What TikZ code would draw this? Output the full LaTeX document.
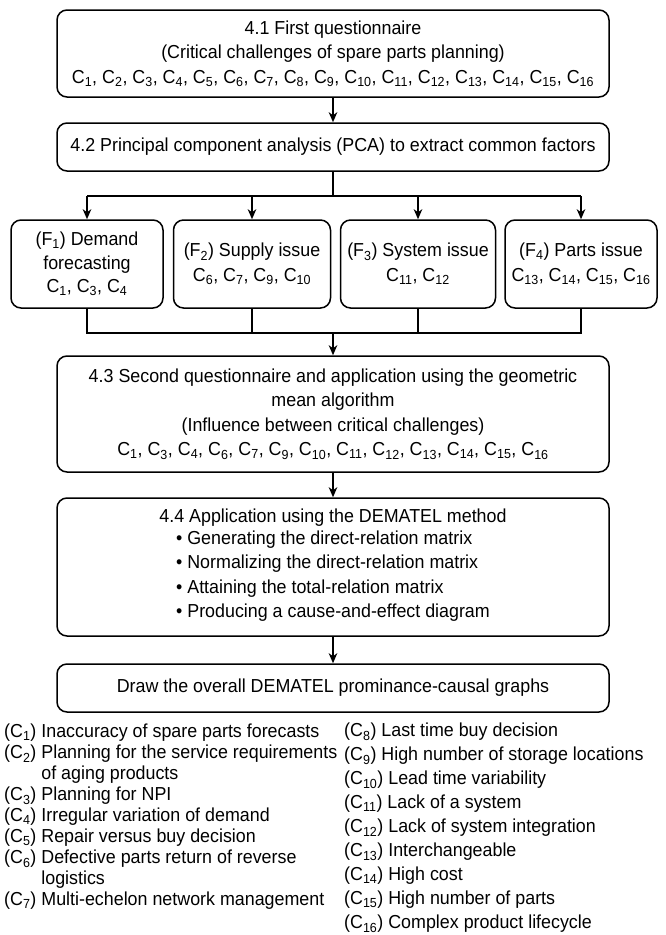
\documentclass[tikz,border=0pt]{standalone}
\usepackage{fontspec}
\setmainfont{Liberation Sans}[FakeStretch=0.95]
\usetikzlibrary{arrows.meta, positioning}
\def\cc#1{C\textsubscript{#1}}
\def\ff#1{F\textsubscript{#1}}

\begin{document}
\begin{tikzpicture}[x=1pt, y=-1pt,
    box/.style={draw, rounded corners=10pt, line width=1.5pt, inner sep=0pt, align=center,
        font=\fontsize{18.8}{24.5}\selectfont},
    link/.style={line width=1.5pt},
    arr/.style={link, -{Stealth[length=10pt, width=8.5pt, inset=3pt]}},
    legend/.style={inner sep=0pt, anchor=north west, align=left}]
    \useasboundingbox (0,0) rectangle (666,935);
    % steps of the method
    \node[box, minimum width=552pt, minimum height=87pt] (first) at (333,53.5) {4.1 First questionnaire\\(Critical challenges of spare parts planning)\\\cc{1}, \cc{2}, \cc{3}, \cc{4}, \cc{5}, \cc{6}, \cc{7}, \cc{8}, \cc{9}, \cc{10}, \cc{11}, \cc{12}, \cc{13}, \cc{14}, \cc{15}, \cc{16}};
    \node[box, minimum width=552pt, minimum height=48pt] (pca) at (333,147) {4.2 Principal component analysis (PCA) to extract common factors};
    \node[box, minimum width=152pt, minimum height=88pt, font=\fontsize{18.8}{23.5}\selectfont] (f1) at (87,264) {(\ff{1}) Demand\\forecasting\\\cc{1}, \cc{3}, \cc{4}};
    \node[box, minimum width=157pt, minimum height=88pt] (f2) at (252,264) {(\ff{2}) Supply issue\\\cc{6}, \cc{7}, \cc{9}, \cc{10}};
    \node[box, minimum width=155pt, minimum height=88pt] (f3) at (418,264) {(\ff{3}) System issue\\\cc{11}, \cc{12}};
    \node[box, minimum width=152pt, minimum height=88pt] (f4) at (581,264) {(\ff{4}) Parts issue\\\cc{13}, \cc{14}, \cc{15}, \cc{16}};
    \node[box, minimum width=552pt, minimum height=116pt] (second) at (333,414) {4.3 Second questionnaire and application using the geometric\\mean algorithm\\(Influence between critical challenges)\\\cc{1}, \cc{3}, \cc{4}, \cc{6}, \cc{7}, \cc{9}, \cc{10}, \cc{11}, \cc{12}, \cc{13}, \cc{14}, \cc{15}, \cc{16}};
    \node[box, minimum width=552pt, minimum height=138pt] (dematel) at (333,567) {4.4 Application using the DEMATEL method\\
        \begin{tabular}{@{}l@{}}
        \textbullet\ Generating the direct-relation matrix\\
        \textbullet\ Normalizing the direct-relation matrix\\
        \textbullet\ Attaining the total-relation matrix\\
        \textbullet\ Producing a cause-and-effect diagram
        \end{tabular}};
    \node[box, minimum width=552pt, minimum height=48pt] (graphs) at (333,688) {Draw the overall DEMATEL prominance-causal graphs};
    % connectors
    \coordinate (split) at (333,196);
    \coordinate (merge) at (333,333);
    \draw[arr] (first) -- (pca);
    \draw[link] (pca) -- (split);
    \draw[link] (f1.north |- split) -- (f4.north |- split);
    \foreach \f in {f1, f2, f3, f4}
        \draw[arr] (\f.north |- split) -- (\f.north);
    \draw[link] (f1.south) -- (f1.south |- merge) -- (f4.south |- merge) -- (f4.south);
    \draw[link] (f2.south) -- (f2.south |- merge);
    \draw[link] (f3.south) -- (f3.south |- merge);
    \draw[arr] (merge) -- (second);
    \draw[arr] (second) -- (dematel);
    \draw[arr] (dematel) -- (graphs);
    % legend of the challenges
    \node[legend, font=\fontsize{18.8}{21}\selectfont] (legleft) at (4,724) {(\cc{1}) Inaccuracy of spare parts forecasts\\
        (\cc{2}) Planning for the service requirements\\
        \phantom{(\cc{2})\ }of aging products\\
        (\cc{3}) Planning for NPI\\
        (\cc{4}) Irregular variation of demand\\
        (\cc{5}) Repair versus buy decision\\
        (\cc{6}) Defective parts return of reverse\\
        \phantom{(\cc{6})\ }logistics\\
        (\cc{7}) Multi-echelon network management};
    \node[legend, font=\fontsize{18.8}{24}\selectfont] (legright) at (344,723) {(\cc{8}) Last time buy decision\\
        (\cc{9}) High number of storage locations\\
        (\cc{10}) Lead time variability\\
        (\cc{11}) Lack of a system\\
        (\cc{12}) Lack of system integration\\
        (\cc{13}) Interchangeable\\
        (\cc{14}) High cost\\
        (\cc{15}) High number of parts\\
        (\cc{16}) Complex product lifecycle};
\end{tikzpicture}
\end{document}
